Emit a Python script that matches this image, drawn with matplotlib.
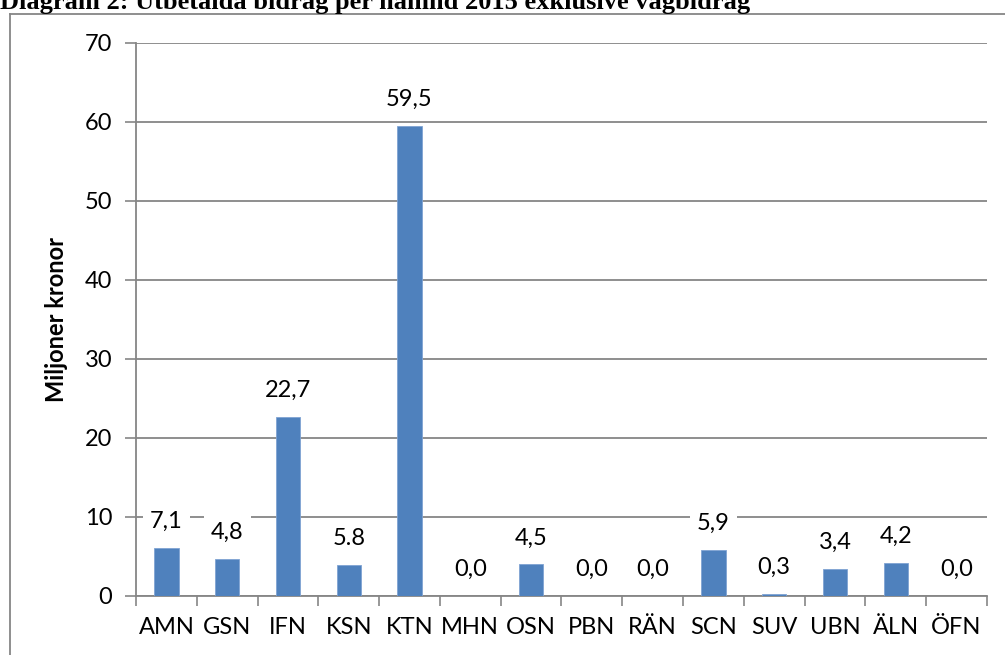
import numpy as np
import matplotlib.pyplot as plt

# values
categories = ['AMN', 'GSN', 'IFN', 'KSN', 'KTN', 'MHN', 'OSN', 'PBN', 'RÄN',
              'SCN', 'SUV', 'UBN', 'ÄLN', 'ÖFN']
bar_values = [6.1, 4.7, 22.7, 3.9, 59.5, 0.0, 4.0, 0.0, 0.0, 5.8, 0.3, 3.4, 4.2, 0.0]
bar_labels = ['7,1', '4,8', '22,7', '5.8', '59,5', '0,0', '4,5', '0,0', '0,0',
              '5,9', '0,3', '3,4', '4,2', '0,0']
y_ticks = [0, 10, 20, 30, 40, 50, 60, 70]

plt.rcParams['font.family'] = ['Lato', 'DejaVu Sans']
grey = '#868686'

fig = plt.figure(figsize=(10.05, 6.55), dpi=100)
ax = fig.add_axes([0.1353, 0.0901, 0.8467, 0.8443])

x = np.arange(len(categories))
ax.bar(x, bar_values, width=0.4, color='#4F81BD', edgecolor='#7FA3D3',
       linewidth=0.6, zorder=3)

for xi, v, lab in zip(x, bar_values, bar_labels):
    ax.annotate(lab, (xi, v), xytext=(0, 19), textcoords='offset points',
                ha='center', va='center', fontsize=17, zorder=4,
                bbox=dict(boxstyle='square,pad=0.3', fc='white', ec='none'))

ax.set_xlim(-0.5, len(categories) - 0.5)
ax.set_ylim(0, 70)
ax.set_yticks(y_ticks)
ax.set_xticks(x)
ax.set_xticklabels(categories)
ax.set_xticks(np.arange(-0.5, len(categories), 1), minor=True)
ax.tick_params(axis='x', which='major', length=0, pad=15, labelsize=17)
ax.tick_params(axis='x', which='minor', length=7, color=grey, width=1.2)
ax.tick_params(axis='y', length=8, color=grey, width=1.2, pad=9, labelsize=17)

ax.yaxis.grid(True, color=grey, linewidth=1.3, zorder=0)
ax.set_axisbelow(True)
for s in ['top', 'right']:
    ax.spines[s].set_visible(False)
for s in ['left', 'bottom']:
    ax.spines[s].set_color(grey)
    ax.spines[s].set_linewidth(1.3)

ax.set_ylabel('Miljoner kronor', fontsize=17, fontweight='bold', labelpad=12)

# frame around the chart and cut-off title
fig.add_artist(plt.Line2D([10 / 1005, 10 / 1005], [0, 1 - 14 / 655],
                          color=grey, linewidth=1.3))
fig.add_artist(plt.Line2D([10 / 1005, 1.0], [1 - 14 / 655, 1 - 14 / 655],
                          color=grey, linewidth=1.3))
fig.text(0.0, 1 - 9 / 655, 'Diagram 2: Utbetalda bidrag per nämnd 2015 exklusive vägbidrag',
         fontsize=19, fontweight='bold', family='Liberation Serif',
         ha='left', va='baseline')

fig.savefig('out.png', dpi=100)
